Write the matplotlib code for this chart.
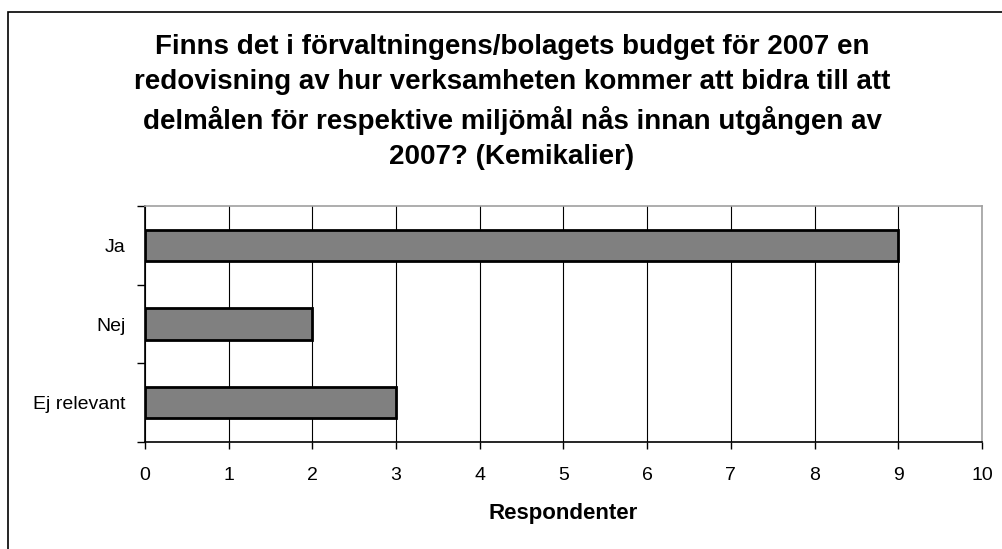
import matplotlib.pyplot as plt
from matplotlib.patches import Rectangle

categories = ["Ja", "Nej", "Ej relevant"]
respondents = [9, 2, 3]
x_ticks = list(range(0, 11))

title = ("Finns det i förvaltningens/bolagets budget för 2007 en\n"
         "redovisning av hur verksamheten kommer att bidra till att\n"
         "delmålen för respektive miljömål nås innan utgången av\n"
         "2007? (Kemikalier)")

plt.rcParams['font.family'] = ['Liberation Sans', 'DejaVu Sans']

fig = plt.figure(figsize=(10.03, 5.49), dpi=100)
W, H = 1003, 549

# outer chart frame
fig.patches.append(Rectangle((8 / W, -0.1), 1.2, (H - 12) / H + 0.1,
                             transform=fig.transFigure, fill=False,
                             edgecolor="black", linewidth=1.2))

ax = fig.add_axes([145 / W, 1 - 442 / H, (982 - 145) / W, (442 - 206) / H])

ypos = list(range(len(categories)))
ax.barh(ypos, respondents, height=0.4, color="#808080",
        edgecolor="black", linewidth=2, zorder=3)

ax.set_xlim(0, 10)
ax.set_ylim(len(categories) - 0.5, -0.5)
ax.set_xticks(x_ticks)
ax.set_xticklabels([str(t) for t in x_ticks], fontsize=14)

# category labels between boundary tick marks
ax.set_yticks([y - 0.5 for y in range(len(categories) + 1)])
ax.set_yticklabels([])
ax.set_yticks(ypos, minor=True)
ax.set_yticklabels(categories, minor=True, fontsize=14)
ax.tick_params(axis="y", which="minor", length=0, pad=14)
ax.tick_params(axis="y", which="major", length=6, width=1, direction="out")
ax.tick_params(axis="x", length=5, width=1, direction="out", pad=13)

ax.grid(axis="x", color="black", linewidth=0.8, zorder=0)

ax.spines["left"].set_color("black")
ax.spines["bottom"].set_color("black")
ax.spines["top"].set_color("#a0a0a0")
ax.spines["right"].set_color("#a0a0a0")
for s in ax.spines.values():
    s.set_linewidth(1.2)

fig.text(563 / W, 1 - 513 / H, "Respondenter", ha="center", va="center",
         fontsize=16, fontweight="bold")

fig.text(512 / W, 1 - 102 / H, title, ha="center", va="center",
         fontsize=20, fontweight="bold", linespacing=1.45)

fig.savefig("out.png", dpi=100)
